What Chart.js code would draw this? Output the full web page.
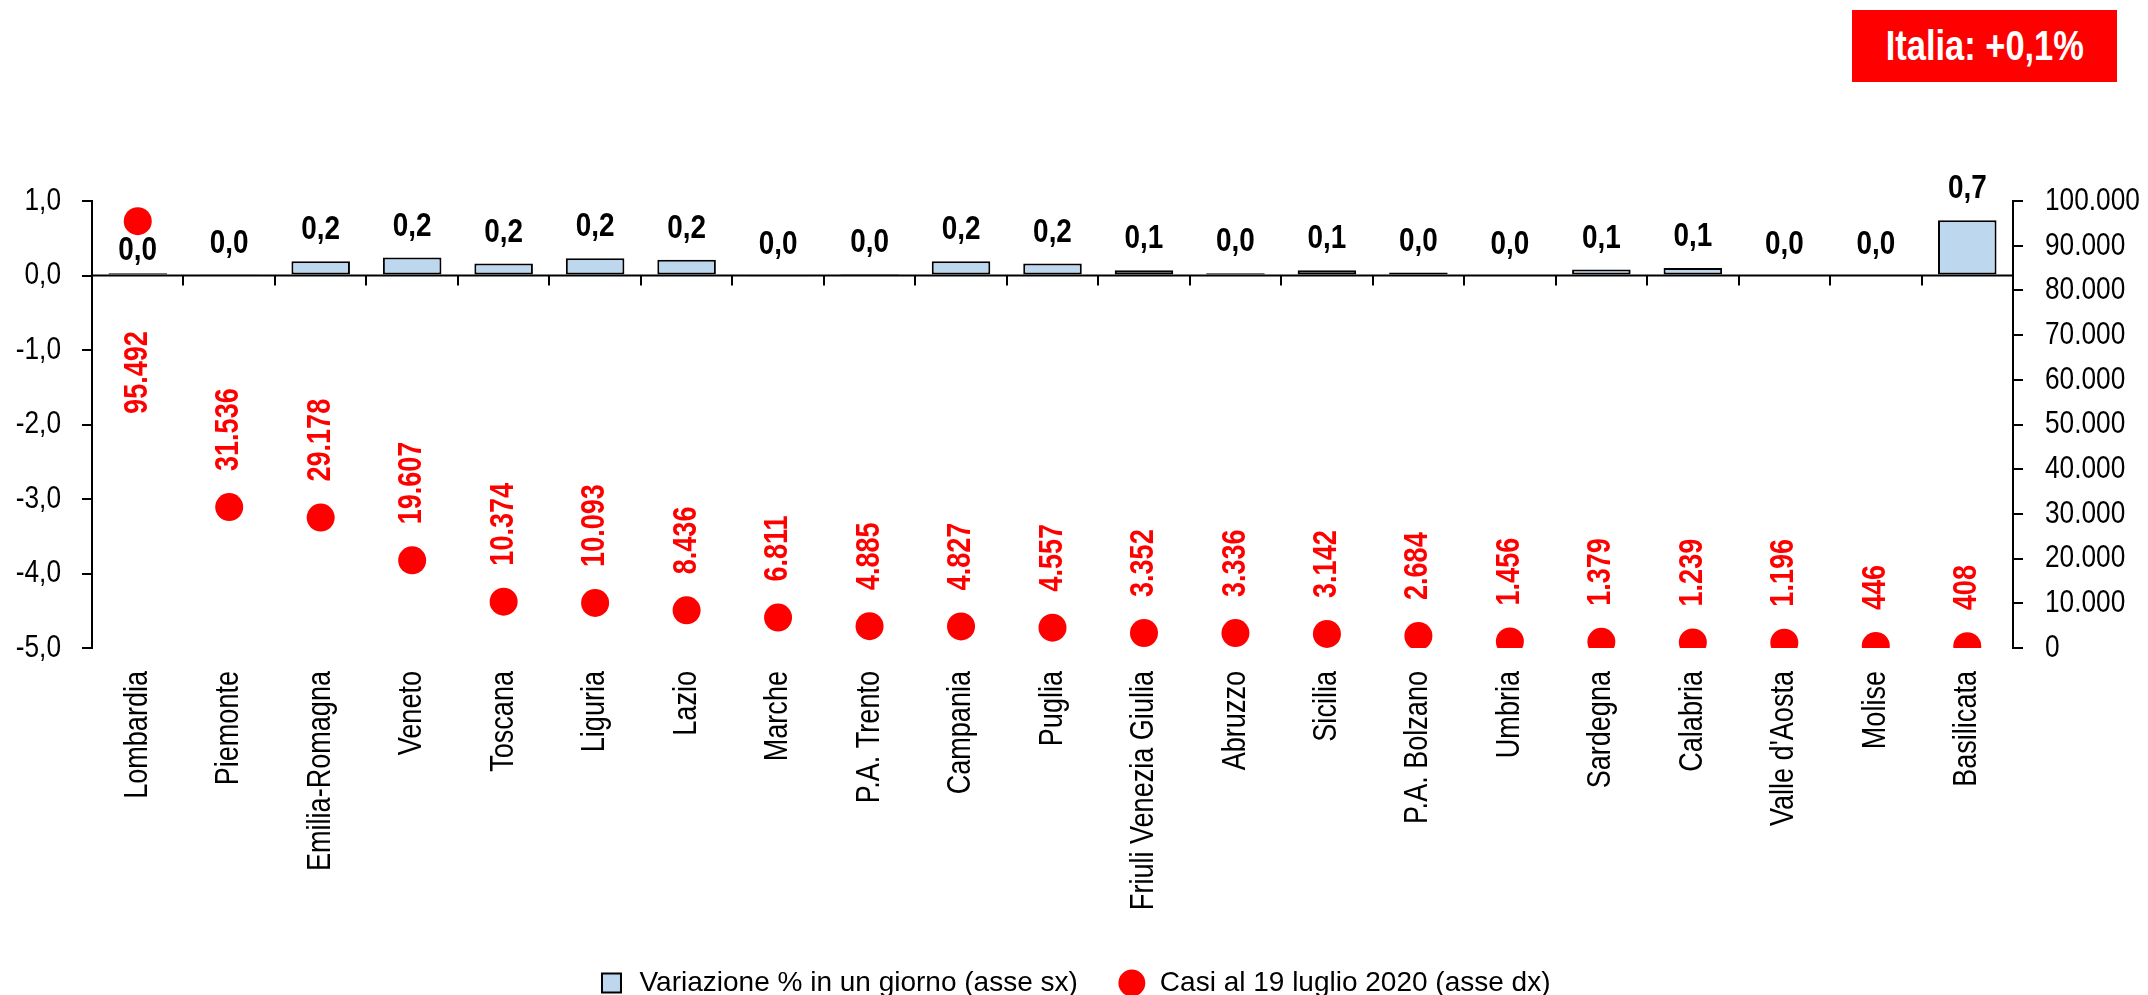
<!DOCTYPE html>
<html lang="it">
<head>
<meta charset="utf-8">
<title>Casi per regione</title>
<script src="https://cdn.jsdelivr.net/npm/chart.js@4/dist/chart.umd.min.js"></script>
<style>
  html, body { margin: 0; padding: 0; background: #fff; }
  .wrap { position: relative; width: 2148px; height: 995px; }
  .badge {
    position: absolute; left: 1852px; top: 10px; width: 265px; height: 72px;
    background: #ff0000; color: #fff; font: bold 42px "Liberation Sans", Arial, sans-serif;
    display: flex; align-items: center; justify-content: center;
  }
  .badge span { display: inline-block; transform: scaleX(0.82); white-space: nowrap; }
</style>
</head>
<body>
<div class="wrap">
  <canvas id="chart" width="2148" height="995"></canvas>
  <div class="badge"><span>Italia: +0,1%</span></div>
</div>
<script>
// ── Data ──────────────────────────────────────────────────
const regioni = [
  'Lombardia', 'Piemonte', 'Emilia-Romagna', 'Veneto', 'Toscana', 'Liguria', 'Lazio',
  'Marche', 'P.A. Trento', 'Campania', 'Puglia', 'Friuli Venezia Giulia', 'Abruzzo',
  'Sicilia', 'P.A. Bolzano', 'Umbria', 'Sardegna', 'Calabria', "Valle d'Aosta", 'Molise', 'Basilicata'
];
// variazione % in un giorno (asse sx)
const variazione = [
  0.03, 0.01, 0.19, 0.24, 0.16, 0.23, 0.21,
  -0.01, 0.02, 0.19, 0.16, 0.07, 0.03,
  0.07, 0.04, 0, 0.08, 0.10, 0, 0, 0.74
];
// casi al 19 luglio 2020 (asse dx)
const casi = [
  95492, 31536, 29178, 19607, 10374, 10093, 8436,
  6811, 4885, 4827, 4557, 3352, 3336,
  3142, 2684, 1456, 1379, 1239, 1196, 446, 408
];

const FONT = '"Liberation Sans", Arial, sans-serif';
const NARROW = 0.82;   // no Arial Narrow here: squeeze Liberation Sans instead
const RED = '#ff0000';

function fmtPct(v) {
  const s = v.toFixed(1);
  return (s === '-0.0' ? '0.0' : s).replace('.', ',');
}
function fmtInt(v) {
  return String(Math.round(v)).replace(/\B(?=(\d{3})+(?!\d))/g, '.');
}

// draw narrow text, optionally rotated
function narrowText(ctx, txt, x, y, align, rot) {
  ctx.save();
  ctx.translate(x, y);
  if (rot) ctx.rotate(rot);
  ctx.scale(NARROW, 1);
  ctx.textAlign = align;
  ctx.fillText(txt, 0, 0);
  ctx.restore();
}

// ── Overlay: zero axis + data labels ─────────────────────
const overlay = {
  id: 'overlay',
  afterDatasetsDraw(chart) {
    const { ctx, scales: { x, y } } = chart;
    const y0 = y.getPixelForValue(0);
    ctx.save();

    // category axis sits on the zero line
    ctx.strokeStyle = '#000';
    ctx.lineWidth = 2;
    ctx.beginPath();
    ctx.moveTo(x.left, y0);
    ctx.lineTo(x.right, y0);
    for (let i = 1; i < regioni.length; i++) {
      const px = Math.round((x.getPixelForValue(i - 1) + x.getPixelForValue(i)) / 2);
      ctx.moveTo(px, y0);
      ctx.lineTo(px, y0 + 10);
    }
    ctx.stroke();

    const bars = chart.getDatasetMeta(0).data;
    const dots = chart.getDatasetMeta(1).data;

    // bar labels
    ctx.font = 'bold 34px ' + FONT;
    ctx.fillStyle = '#000';
    ctx.textBaseline = 'alphabetic';
    bars.forEach((b, i) => {
      const top = Math.min(b.y, b.base);
      let by = top - 22;
      const d = dots[i];
      const dotBottom = d.y + 14;
      if (d.y < top && by - 25 < dotBottom) by = dotBottom + 25;
      narrowText(ctx, fmtPct(variazione[i]), b.x, by, 'center');
    });

    // dot labels (rotated)
    ctx.font = 'bold 33px ' + FONT;
    ctx.fillStyle = RED;
    ctx.textBaseline = 'middle';
    dots.forEach((d, i) => {
      const txt = fmtInt(casi[i]);
      const w = ctx.measureText(txt).width * NARROW;
      if (d.y - 36 - w < chart.chartArea.top) {
        narrowText(ctx, txt, d.x, d.y + 110, 'right', -Math.PI / 2);
      } else {
        narrowText(ctx, txt, d.x, d.y - 36, 'left', -Math.PI / 2);
      }
    });
    ctx.restore();
  },

  // tick labels, drawn narrow at the library's tick positions
  afterDraw(chart) {
    const { ctx, scales: { x, y, y1 } } = chart;
    ctx.save();
    ctx.fillStyle = '#000';
    ctx.textBaseline = 'middle';

    ctx.font = '32px ' + FONT;
    y.ticks.forEach((t, i) => narrowText(ctx, fmtPct(t.value), y.right - 31, y.getPixelForTick(i), 'right'));
    y1.ticks.forEach((t, i) => narrowText(ctx, fmtInt(t.value), y1.left + 32, y1.getPixelForTick(i), 'left'));

    ctx.font = '33px ' + FONT;
    x.ticks.forEach((t, i) => narrowText(ctx, regioni[i], x.getPixelForTick(i), x.top + 23, 'right', -Math.PI / 2));
    ctx.restore();
  }
};

// ── Chart ─────────────────────────────────────────────────
const ctx = document.getElementById('chart').getContext('2d');
new Chart(ctx, {
  data: {
    labels: regioni,
    datasets: [
      {
        type: 'bar',
        label: 'Variazione % in un giorno (asse sx)',
        data: variazione,
        yAxisID: 'y',
        backgroundColor: '#bdd7ee',
        borderColor: '#000',
        borderWidth: 2,
        borderSkipped: false,
        barPercentage: 0.64,
        categoryPercentage: 1,
        pointStyle: 'rect'
      },
      {
        type: 'line',
        label: 'Casi al 19 luglio 2020 (asse dx)',
        data: casi,
        yAxisID: 'y1',
        showLine: false,
        pointRadius: 14,
        pointHoverRadius: 14,
        pointBackgroundColor: RED,
        pointBorderWidth: 0,
        backgroundColor: RED,
        borderColor: RED,
        pointStyle: 'circle'
      }
    ]
  },
  options: {
    responsive: false,
    animation: false,
    layout: { padding: { top: 201, right: 0, bottom: -12, left: 0 } },
    plugins: {
      tooltip: { enabled: false },
      legend: {
        position: 'bottom',
        labels: {
          color: '#000',
          font: { family: FONT, size: 28 },
          usePointStyle: true,
          boxHeight: 19,
          padding: 40
        }
      }
    },
    scales: {
      x: {
        offset: true,
        grid: { display: false, drawTicks: false },
        border: { display: false },
        ticks: { display: false, autoSkip: false },
        afterFit: s => { s.height = 281; }
      },
      y: {
        position: 'left',
        min: -5, max: 1,
        grid: { drawOnChartArea: false, drawTicks: true, tickLength: 10, color: '#000', lineWidth: 2 },
        border: { display: true, color: '#000', width: 2 },
        ticks: { display: false, stepSize: 1 },
        afterFit: s => { s.width = 92; }
      },
      y1: {
        position: 'right',
        min: 0, max: 100000,
        grid: { drawOnChartArea: false, drawTicks: true, tickLength: 10, color: '#000', lineWidth: 2 },
        border: { display: true, color: '#000', width: 2 },
        ticks: { display: false, stepSize: 10000 },
        afterFit: s => { s.width = 135; }
      }
    }
  },
  plugins: [overlay]
});
</script>
</body>
</html>
